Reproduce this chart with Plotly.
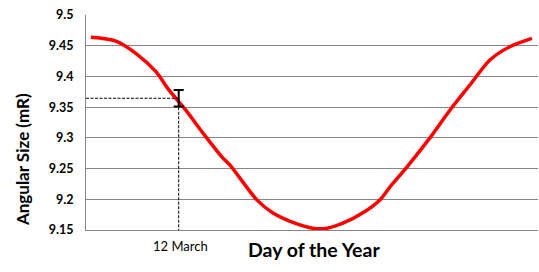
import plotly.graph_objects as go

# Data
days = [1, 21.6, 38.1, 54.7, 65.4, 79.4, 93.4, 110, 115.7, 138, 151, 165, 184, 196,
        209, 225.5, 239.5, 247.8, 261.8, 280.8, 297.3, 313.8, 330.3, 346.8, 365]
angular_size = [9.4637, 9.4575, 9.4376, 9.4077, 9.378, 9.345, 9.308, 9.267, 9.256, 9.199,
                9.178, 9.1645, 9.153, 9.153, 9.161, 9.178, 9.199, 9.22, 9.2525, 9.30,
                9.345, 9.386, 9.4267, 9.4484, 9.462]
ytick_vals = [9.15, 9.2, 9.25, 9.3, 9.35, 9.4, 9.45, 9.5]
ytick_text = ["9.15", "9.2", "9.25", "9.3", "9.35", "9.4", "9.45", "9.5"]
marker_label = "12 March"
marker_day = [73.5]
marker_value = [9.3645]
marker_err = [0.0135]
x_range = [-3, 370]
y_range = [9.15, 9.5]

fig = go.Figure()
fig.add_trace(go.Scatter(x=days, y=angular_size, mode="lines",
                         line=dict(color="#ff0000", width=3.5, shape="spline", smoothing=0.8),
                         hoverinfo="skip"))
# dashed guides
fig.add_trace(go.Scatter(x=[x_range[0], marker_day[0]], y=[marker_value[0], marker_value[0]],
                         mode="lines", line=dict(color="black", width=1, dash="3px,1.5px")))
fig.add_trace(go.Scatter(x=[marker_day[0], marker_day[0]], y=[marker_value[0], y_range[0]],
                         mode="lines", line=dict(color="black", width=1, dash="3px,1.5px")))
# error bar
fig.add_trace(go.Scatter(x=marker_day, y=marker_value, mode="markers",
                         marker=dict(size=1, color="rgba(0,0,0,0)"),
                         error_y=dict(type="data", array=marker_err, color="black",
                                      thickness=2, width=5)))

fig.update_layout(
    width=539, height=272,
    margin=dict(l=86, r=1, t=15, b=42),
    paper_bgcolor="white", plot_bgcolor="white",
    showlegend=False,
    font=dict(family="Lato", color="black"),
    xaxis=dict(range=x_range, showgrid=False, zeroline=False, showticklabels=False,
               showline=True, linecolor="#868686", linewidth=1, ticks=""),
    yaxis=dict(range=y_range, tickvals=ytick_vals, ticktext=ytick_text,
               showgrid=True, gridcolor="#868686", gridwidth=1, zeroline=False,
               showline=True, linecolor="#868686", linewidth=1, ticks="",
               ticklabelstandoff=9,
               tickfont=dict(family="Lato", size=12.5, color="black", weight="bold")),
    annotations=[
        dict(x=-0.1416, y=0.33, xref="paper", yref="paper", textangle=-90,
             xanchor="center", yanchor="middle",
             text="<b>Angular Size (mR)</b>", showarrow=False,
             font=dict(family="Lato", size=17, color="black")),
        dict(x=marker_day[0], y=0, xref="x", yref="paper", yanchor="middle",
             yshift=-15.5, xshift=2,
             text=marker_label, showarrow=False,
             font=dict(family="Lato", size=13, color="black")),
        dict(x=0.5, y=0, xref="paper", yref="paper", yanchor="middle",
             yshift=-19, xshift=2,
             text="<b>Day of the Year</b>", showarrow=False,
             font=dict(family="Lato", size=19.5, color="black")),
    ],
)

fig.write_html("out.html")
